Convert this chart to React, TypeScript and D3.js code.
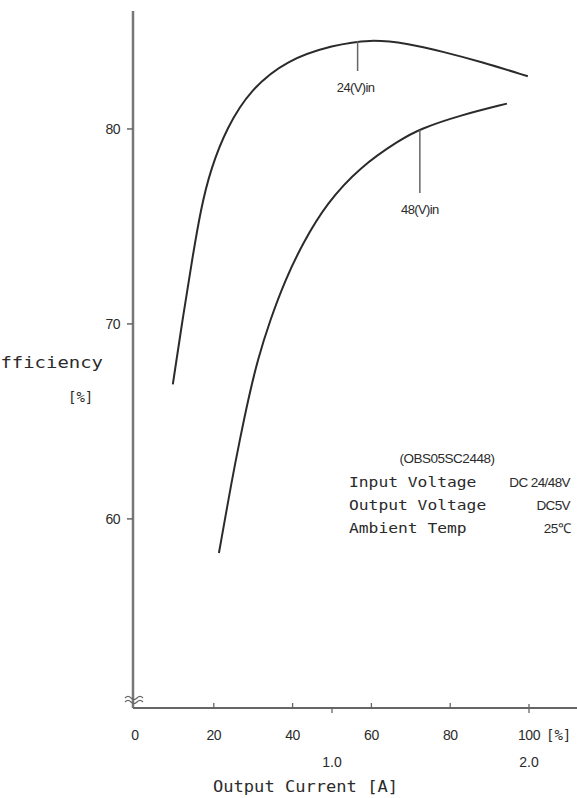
import React from "react";
import * as d3 from "d3";

// load rate [%] vs efficiency [%]
const load24 = [9.6, 12.2, 14.5, 16.7, 19.2, 23.4, 29.2, 38.6, 50.3, 59.6, 69.0, 78.4, 87.8, 99.7];
const eff24 = [66.9, 70.4, 73.3, 75.9, 77.95, 80.1, 82.0, 83.55, 84.3, 84.6, 84.4, 83.95, 83.45, 82.7];
const load48 = [21.3, 24.6, 26.6, 28.7, 31.1, 34.3, 38.1, 42.6, 48.7, 57.1, 67.3, 72.3, 82.5, 94.4];
const eff48 = [58.25, 62.0, 64.05, 66.1, 68.15, 70.2, 72.25, 74.15, 76.2, 78.05, 79.45, 80.0, 80.7, 81.3];

const yTicks = [60, 70, 80];
const xTicks = [0, 20, 40, 60, 80, 100];
const ampTicks = [1.0, 2.0]; // 2.0 A == 100 %
const notes = [
  ["Input Voltage", "DC 24/48V"],
  ["Output Voltage", "DC5V"],
  ["Ambient Temp", "25\u2103"],
];

const W = 577, H = 798;
const sans = "'Liberation Sans', Arial, sans-serif";
const mono = "'DejaVu Sans Mono', monospace";
const ink = "#2b2b2b";

export default function App() {
  const x = d3.scaleLinear().domain([0, 100]).range([135, 529]);
  const y = d3.scaleLinear().domain([50.3, 86.05]).range([708, 11]);
  const ampX = (a: number) => x((a / 2) * 100);

  const line = d3.line<number>()
    .x((d) => x(d))
    .curve(d3.curveBasis);
  const path24 = line.y((_, i) => y(eff24[i]))(load24);
  const path48 = line.y((_, i) => y(eff48[i]))(load48);

  const x0 = x(0), yb = y(50.3);

  return (
    <svg width={W} height={H} style={{ position: "absolute", left: 0, top: 0, background: "#fff" }}>
      {/* axes */}
      <line x1={133} x2={133} y1={y(86.05)} y2={yb} stroke="#777" strokeWidth={2.5} />
      <line x1={133} x2={W} y1={yb} y2={yb} stroke="#666" strokeWidth={2} />
      {yTicks.map((t) => (
        <g key={t}>
          <line x1={127} x2={133} y1={y(t)} y2={y(t)} stroke="#666" strokeWidth={1.5} />
          <text x={120} y={y(t) + 5} textAnchor="end" fontFamily={sans} fontSize={14} fill={ink} letterSpacing={-0.5}>{t}</text>
        </g>
      ))}
      {xTicks.map((t) => (
        <g key={t}>
          {t > 0 && (
            <line x1={x(t)} x2={x(t)} y1={yb - (t === 100 ? 4 : 5)} y2={yb + (t === 100 ? 5 : 0)} stroke="#666" strokeWidth={1.3} />
          )}
          <text x={x(t)} y={740} textAnchor="middle" fontFamily={sans} fontSize={14} fill={ink} letterSpacing={-0.5}>{t}</text>
        </g>
      ))}
      <text x={x(100) + 17} y={740} fontFamily={mono} fontSize={14} fill={ink}>[%]</text>
      {ampTicks.map((a) => (
        <g key={a}>
          {a === 1 && <line x1={ampX(a)} x2={ampX(a)} y1={yb} y2={yb + 5} stroke="#666" strokeWidth={1.3} />}
          <text x={ampX(a)} y={767} textAnchor="middle" fontFamily={sans} fontSize={14} fill={ink}>{a.toFixed(1)}</text>
        </g>
      ))}
      <text x={213} y={792} fontFamily={mono} fontSize={15} textLength={185} lengthAdjust="spacingAndGlyphs" fill={ink}>Output Current [A]</text>

      {/* axis break */}
      <path d={`M${x0 - 10},${yb - 10} q3,-3 6,0 t6,0 t6,0 M${x0 - 10},${yb - 6} q3,-3 6,0 t6,0 t6,0`} fill="none" stroke="#666" strokeWidth={1.2} />

      {/* y label, cut at the page edge as in the scan */}
      <text x={103} y={368} textAnchor="end" fontFamily={mono} fontSize={15} fill={ink} textLength={114} lengthAdjust="spacingAndGlyphs">Efficiency</text>
      <text x={68} y={402} fontFamily={mono} fontSize={14} fill={ink}>[%]</text>

      {/* curves */}
      <path d={path24 ?? ""} fill="none" stroke={ink} strokeWidth={2} />
      <path d={path48 ?? ""} fill="none" stroke={ink} strokeWidth={2} />

      {/* curve labels */}
      <line x1={x(56.5)} x2={x(56.5)} y1={y(84.5)} y2={71} stroke="#666" strokeWidth={1.5} />
      <text x={x(56)} y={92} textAnchor="middle" fontFamily={sans} fontSize={13} fill={ink} letterSpacing={-0.6}>24(V)in</text>
      <line x1={x(72.3)} x2={x(72.3)} y1={y(79.95)} y2={193} stroke="#666" strokeWidth={1.5} />
      <text x={x(72.3)} y={214} textAnchor="middle" fontFamily={sans} fontSize={13} fill={ink} letterSpacing={-0.6}>48(V)in</text>

      {/* conditions */}
      <text x={447} y={463} textAnchor="middle" fontFamily={sans} fontSize={13.5} fill={ink} letterSpacing={-0.5}>(OBS05SC2448)</text>
      {notes.map(([k, v], i) => (
        <g key={k}>
          <text x={349} y={487 + i * 23} fontFamily={mono} fontSize={14} fill={ink} textLength={k.length * 9.8} lengthAdjust="spacingAndGlyphs">{k}</text>
          <text x={570} y={487 + i * 23} textAnchor="end" fontFamily={sans} fontSize={13.5} fill={ink} letterSpacing={-0.6}>{v}</text>
        </g>
      ))}
    </svg>
  );
}
